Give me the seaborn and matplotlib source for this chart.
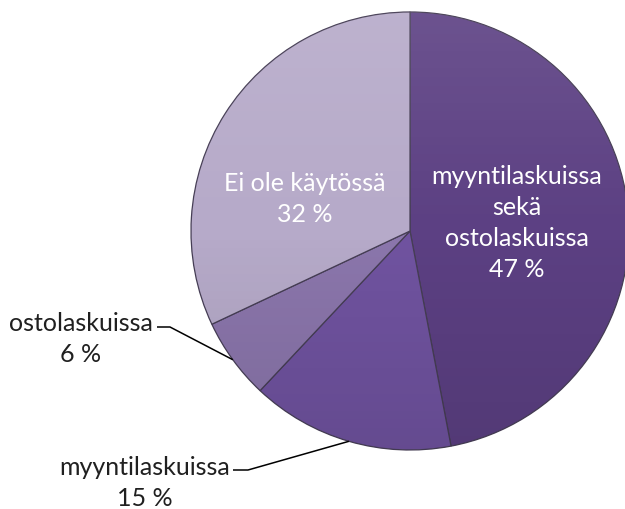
import numpy as np
import matplotlib
matplotlib.use("Agg")
import matplotlib.pyplot as plt
from matplotlib.patches import Circle
import seaborn as sns

# ---- data ----
categories = ["myyntilaskuissa\nsekä\nostolaskuissa", "myyntilaskuissa", "ostolaskuissa", "Ei ole käytössä"]
values = [47, 15, 6, 32]
pct_labels = ["47 %", "15 %", "6 %", "32 %"]
colors = ["#5c4083", "#7053a0", "#8b76ac", "#b6aac9"]

sns.set_theme(style="white")
plt.rcParams["font.family"] = ["Lato", "DejaVu Sans"]

W, H = 625, 510
CX, CY, R = 410, 232, 219   # pixel layout of the pie

fig = plt.figure(figsize=(W / 100, H / 100), dpi=100)
ax = fig.add_axes([0, 0, 1, 1])
ax.set_aspect("equal")
ax.axis("off")


def px(x, y):
    return (x - CX) / R, (CY - y) / R


wedges, _ = ax.pie(values, colors=colors, startangle=90, counterclock=False,
                   radius=1.0, center=(0, 0),
                   wedgeprops=dict(edgecolor="#463e55", linewidth=0.9))

# soft vertical shading (lighter at top, darker at bottom) clipped to the pie
t = np.linspace(0, 1, 256)
s = (0.5 - t) * 2
rgba = np.zeros((256, 1, 4))
rgba[:, 0, :3] = np.where(s[:, None] > 0, 1.0, 0.0)
rgba[:, 0, 3] = np.abs(s) * 0.10
clip = Circle((0, 0), 1.0, transform=ax.transData)
im = ax.imshow(rgba, extent=(-1, 1, -1, 1), aspect="auto", zorder=3, interpolation="bilinear")
im.set_clip_path(clip)

ax.set_xlim(-CX / R, (W - CX) / R)
ax.set_ylim(-(H - CY) / R, CY / R)

fs = 18
ls = 1.42
# inside labels (white)
ax.text(*px(517, 223), categories[0] + "\n" + pct_labels[0], color="white",
        fontsize=fs, ha="center", va="center", linespacing=ls, zorder=5)
ax.text(*px(305, 199), categories[3] + "\n" + pct_labels[3], color="white",
        fontsize=fs, ha="center", va="center", linespacing=ls, zorder=5)

# outside labels with leader lines
outside = [(1, (145, 483), (233, 248, 471)), (2, (81, 339), (157, 170, 328))]
for idx, (tx, ty), (lx0, lx1, ly) in outside:
    ax.text(*px(tx, ty), categories[idx] + "\n" + pct_labels[idx], color="#202020",
            fontsize=fs, ha="center", va="center", linespacing=ls, zorder=5)
    w = wedges[idx]
    mid = np.deg2rad((w.theta1 + w.theta2) / 2)
    ex, ey = np.cos(mid), np.sin(mid)
    x0, y0 = px(lx0, ly)
    x1, _ = px(lx1, ly)
    ax.plot([x0, x1, ex], [y0, y0, ey], color="black", lw=1.1,
            solid_capstyle="butt", zorder=4)

fig.savefig("out.png", dpi=100)
